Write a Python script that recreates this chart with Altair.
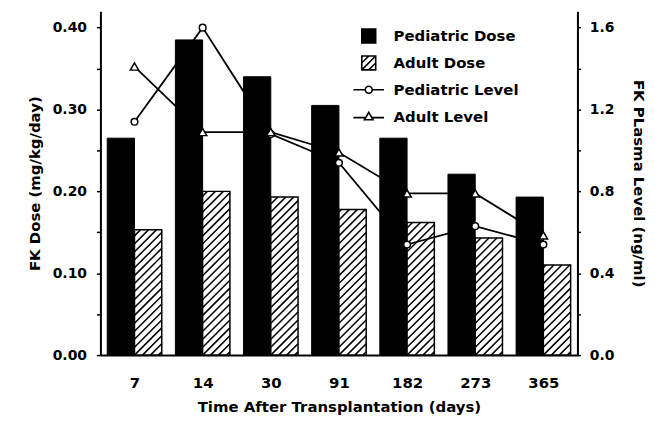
import math
import altair as alt
import pandas as pd

# ---- data ----
days = ["7", "14", "30", "91", "182", "273", "365"]
ped_dose = [0.265, 0.385, 0.340, 0.305, 0.265, 0.221, 0.193]
adult_dose = [0.153, 0.200, 0.193, 0.178, 0.162, 0.143, 0.110]
ped_level = [1.14, 1.60, 1.08, 0.94, 0.54, 0.63, 0.54]
adult_level = [1.41, 1.09, 1.09, 0.99, 0.79, 0.79, 0.585]
legend_labels = ["Pediatric Dose", "Adult Dose", "Pediatric Level", "Adult Level"]

# ---- layout / style ----
W, H = 480, 346
X_DOM = [-0.5, len(days) - 0.5]
DOSE_DOM = [0, 0.42]
LEVEL_DOM = [0, 1.68]
BAR_W = 0.4
FONT = "DejaVu Sans"
HATCH_STEP = 8.0  # px

df = pd.DataFrame({
    "idx": list(range(len(days))),
    "day": days,
    "ped_dose": ped_dose,
    "adult_dose": adult_dose,
    "ped_level": ped_level,
    "adult_level": adult_level,
})

# hatch segments for the adult bars (45 degree, clipped to each bar)
px_x = W / (X_DOM[1] - X_DOM[0])
px_y = H / (DOSE_DOM[1] - DOSE_DOM[0])
rows = []
for i, v in enumerate(adult_dose):
    bw = BAR_W * px_x
    ph = v * px_y
    kmin = math.ceil(-ph / HATCH_STEP)
    kmax = math.floor(bw / HATCH_STEP)
    for k in range(kmin, kmax + 1):
        c = k * HATCH_STEP
        xs = max(0.0, c)
        xe = min(bw, ph + c)
        if xe - xs < 0.8:
            continue
        rows.append({
            "hx": i + xs / px_x, "hy": (xs - c) / px_y,
            "hx2": i + xe / px_x, "hy2": (xe - c) / px_y,
        })
hatch_df = pd.DataFrame(rows)

x_scale = alt.Scale(domain=X_DOM, nice=False, zero=False)
label_expr = "[" + ",".join("'%s'" % d for d in days) + "][datum.value]"
x_axis = alt.Axis(
    values=list(range(len(days))), labelExpr=label_expr, ticks=False, grid=False,
    title="Time After Transplantation (days)", labelFontSize=15, labelPadding=21,
    titlePadding=9, titleFontSize=15, domainWidth=2, labelOverlap=False,
)

dose_scale = alt.Scale(domain=DOSE_DOM, nice=False, zero=True)
dose_ticks = [round(k * 0.05, 2) for k in range(9)]
dose_axis = alt.Axis(
    orient="left", values=dose_ticks,
    labelExpr="(round(datum.value*100) % 10 == 0) ? format(datum.value, '.2f') : ''",
    tickSize=4, labelPadding=10, title="FK Dose (mg/kg/day)", titlePadding=10,
    labelFontSize=14, titleFontSize=15, grid=False, labelOverlap=False,
)

level_scale = alt.Scale(domain=LEVEL_DOM, nice=False, zero=True)
level_ticks = [round(k * 0.2, 1) for k in range(9)]
level_axis = alt.Axis(
    orient="right", values=level_ticks,
    labelExpr="(round(datum.value*10) % 4 == 0) ? format(datum.value, '.1f') : ''",
    tickSize=3, labelPadding=9, title="FK PLasma Level (ng/ml)", titlePadding=17,
    labelFontSize=14, titleFontSize=15, grid=False, labelOverlap=False,
)

base = alt.Chart(df)

ped_bars = base.transform_calculate(x0="datum.idx - %s" % BAR_W).mark_rect(
    fill="black", stroke="black", strokeWidth=1
).encode(
    x=alt.X("x0:Q", scale=x_scale, axis=x_axis),
    x2="idx:Q",
    y=alt.Y("ped_dose:Q", scale=dose_scale, axis=dose_axis),
    y2=alt.datum(0),
)

adult_bars = base.transform_calculate(x1="datum.idx + %s" % BAR_W).mark_rect(
    fill="white", stroke="black", strokeWidth=1.5
).encode(
    x=alt.X("idx:Q", scale=x_scale, axis=x_axis),
    x2="x1:Q",
    y=alt.Y("adult_dose:Q", scale=dose_scale, axis=dose_axis),
    y2=alt.datum(0),
)

hatch = alt.Chart(hatch_df).mark_rule(color="black", strokeWidth=1.5).encode(
    x=alt.X("hx:Q", scale=x_scale, axis=x_axis),
    y=alt.Y("hy:Q", scale=dose_scale, axis=dose_axis),
    x2="hx2:Q",
    y2="hy2:Q",
)

dose_layer = alt.layer(ped_bars, adult_bars, hatch)

def level_line(field):
    return base.mark_line(color="black", strokeWidth=1.8).encode(
        x=alt.X("idx:Q", scale=x_scale, axis=x_axis),
        y=alt.Y(field + ":Q", scale=level_scale, axis=level_axis),
    )

def level_points(field, shape, size):
    return base.mark_point(
        shape=shape, filled=True, fill="white", stroke="black",
        strokeWidth=1.5, size=size, opacity=1
    ).encode(
        x=alt.X("idx:Q", scale=x_scale, axis=x_axis),
        y=alt.Y(field + ":Q", scale=level_scale, axis=level_axis),
    )

level_layer = alt.layer(
    level_line("ped_level"), level_line("adult_level"),
    level_points("ped_level", "circle", 45),
    level_points("adult_level", "triangle-up", 70),
)

# legend (real Vega legend with custom symbol paths, all spanning y in [-1, 1])
legend_paths = [
    "M-1,-1H1V1H-1Z",
    "M-1,-1H1V1H-1Z M-1,1L1,-1 M-1,0L0,-1 M0,1L1,0",
    "M0,-1L0,-1 M0,1L0,1 M-2.2,0H-0.5 M0.5,0H2.2 M-0.5,0A0.5,0.5 0 1,1 0.5,0A0.5,0.5 0 1,1 -0.5,0Z",
    "M0,-1L0,-1 M0,1L0,1 M-2.2,0.15H-0.45 M0.45,0.15H2.2 M0,-0.6L0.62,0.45H-0.62Z",
]
legend_fills = ["black", "white", "white", "white"]
legend_strokes = ["black", "black", "black", "black"]
leg = alt.Legend(
    orient="none", legendX=262, legendY=17, title=None, padding=0,
    labelFont=FONT, labelFontSize=15, labelFontWeight="bold", labelColor="black",
    symbolSize=196, symbolStrokeColor="black", symbolStrokeWidth=1.6,
    symbolOpacity=1, labelOffset=17, rowPadding=5,
)
legend_layer = alt.Chart(pd.DataFrame({"item": legend_labels})).transform_filter(
    "false"
).mark_point(filled=True, strokeWidth=1.6, opacity=1).encode(
    shape=alt.Shape("item:N", scale=alt.Scale(domain=legend_labels, range=legend_paths), legend=leg),
    fill=alt.Fill("item:N", scale=alt.Scale(domain=legend_labels, range=legend_fills), legend=leg),
    stroke=alt.Stroke("item:N", scale=alt.Scale(domain=legend_labels, range=legend_strokes), legend=leg),
)

chart = alt.layer(dose_layer, level_layer, legend_layer).resolve_scale(
    y="independent"
).properties(
    width=W, height=H,
    padding={"left": 19, "top": 2, "right": 1, "bottom": 3},
    background="white",
).configure_view(stroke=None).configure_axis(
    labelFont=FONT, labelFontWeight="bold", labelColor="black",
    titleFont=FONT, titleFontWeight="bold", titleColor="black",
    domainColor="black", tickColor="black", domainWidth=2, tickWidth=1.5,
)

chart.save("out.html", embed_options={"renderer": "svg", "actions": False})
